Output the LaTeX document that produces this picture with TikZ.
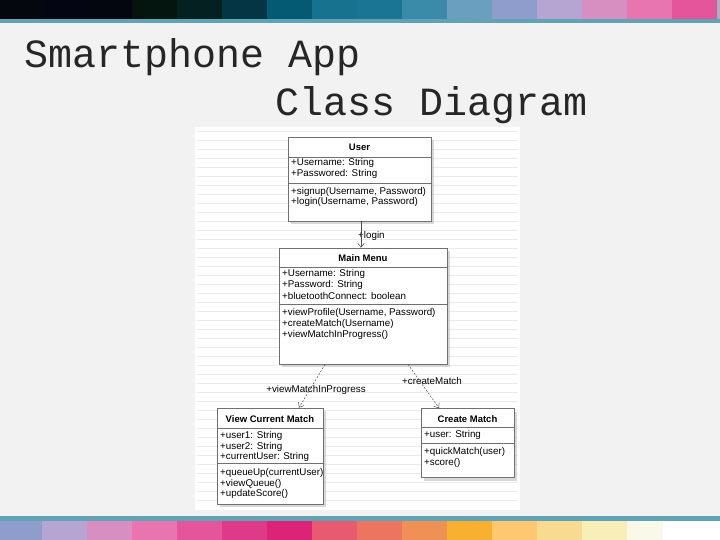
\documentclass[tikz,border=0pt]{standalone}
\usepackage{fontspec}
\setmainfont{Liberation Sans}
\newfontfamily\titlefont{Liberation Mono}
\usepackage{xcolor}
\usetikzlibrary{arrows.meta, positioning, shadows}
\tikzset{>={Straight Barb[length=4pt,width=6.5pt]}}

\definecolor{slidebg}{HTML}{F2F2F2}
\definecolor{stripline}{HTML}{5FA3B5}
\definecolor{stripgap}{HTML}{9CB4C4}
\definecolor{paperline}{HTML}{EAEAEA}
\definecolor{boxline}{HTML}{707070}

\begin{document}
\begin{tikzpicture}[x=1pt, y=-1pt, classbox/.style={draw=boxline, fill=white, line width=0.7pt, inner sep=0pt, drop shadow={shadow xshift=3pt, shadow yshift=-3pt, fill=black!25, opacity=0.6}}, classname/.style={font=\bfseries\fontsize{9.5}{11}\selectfont, inner sep=0pt}, member/.style={font=\fontsize{9.8}{11}\selectfont, anchor=west, inner sep=0pt}, sep/.style={draw=boxline, line width=0.7pt}, dep/.style={->, draw=black!70, line width=0.5pt}, deplabel/.style={font=\fontsize{9.8}{11}\selectfont, inner sep=0pt}, titletext/.style={font=\titlefont\fontsize{40}{48}\selectfont, text=black!85, inner sep=0pt}]

    \useasboundingbox (0,0) rectangle (720,540);
    \fill[slidebg] (0,0) rectangle (720,540);

    %Colour strips
    \fill[stripgap] (0,0) rectangle (720,19);
    \foreach \c [count=\i from 0] in {05070F,030612,03050F,04140F,042020,033545,055A73,177290,1A7595,3A8AAA,6A9FC0,8F9DCC,B6A4D2,D68FC0,E875B0,E5559B}{
        \definecolor{cur}{HTML}{\c}
        \fill[cur] (\i*45-3,0) rectangle (\i*45+41.8,19);
    }
    \fill[stripline] (0,19) rectangle (720,23);
    \fill[stripline] (0,516) rectangle (720,521);
    \fill[white] (0,521) rectangle (720,540);
    \foreach \c [count=\i from 0] in {8F9DCC,B6A4D2,D68FC0,E875B0,E5559B,DF3A8A,DD2378,E85A70,EC7560,EF9055,F7B030,FDC870,F8DB90,F8EEB8}{
        \definecolor{cur}{HTML}{\c}
        \fill[cur] (\i*45-3,521) rectangle (\i*45+41.8,540);
    }
    \definecolor{lastsq}{HTML}{F8F9E8}
    \fill[lastsq] (627,521) rectangle (663,540);

    %Title
    \node[titletext, anchor=base west] (title1) at (24,68) {Smartphone App};
    \node[titletext, anchor=base west] (title2) at (275,116) {Class Diagram};

    %Diagram sheet
    \fill[white] (195,127) rectangle (520,510);
    \foreach \y in {131,140,...,508}
        \draw[paperline, line width=0.5pt] (197,\y) -- (518,\y);

    %Classes
    \node[classbox, minimum width=143pt, minimum height=84pt] (user) at (359.5,179) {};
    \node[classname] (user-name) at (user.north |- 0,147) {User};
    \draw[sep] (user.west |- 0,157) -- (user.east |- 0,157);
    \node[member] (user-a1) at (291,163) {+Username: String};
    \node[member] (user-a2) at (291,174) {+Passwored: String};
    \draw[sep] (user.west |- 0,183) -- (user.east |- 0,183);
    \node[member] (user-m1) at (291,192) {+signup(Username, Password)};
    \node[member] (user-m2) at (291,202) {+login(Username, Password)};

    \node[classbox, minimum width=168pt, minimum height=116pt] (mainmenu) at (363,306) {};
    \node[classname] (mainmenu-name) at (mainmenu.north |- 0,258) {Main Menu};
    \draw[sep] (mainmenu.west |- 0,267) -- (mainmenu.east |- 0,267);
    \node[member] (mainmenu-a1) at (282,274) {+Username: String};
    \node[member] (mainmenu-a2) at (282,285) {+Password: String};
    \node[member] (mainmenu-a3) at (282,296) {+bluetoothConnect: boolean};
    \draw[sep] (mainmenu.west |- 0,304) -- (mainmenu.east |- 0,304);
    \node[member] (mainmenu-m1) at (282,313) {+viewProfile(Username, Password)};
    \node[member] (mainmenu-m2) at (282,324) {+createMatch(Username)};
    \node[member] (mainmenu-m3) at (282,335) {+viewMatchInProgress()};

    \node[classbox, minimum width=106pt, minimum height=96pt] (viewmatch) at (270,456) {};
    \node[classname] (viewmatch-name) at (viewmatch.north |- 0,419) {View Current Match};
    \draw[sep] (viewmatch.west |- 0,428) -- (viewmatch.east |- 0,428);
    \node[member] (viewmatch-a1) at (220,436) {+user1: String};
    \node[member] (viewmatch-a2) at (220,447) {+user2: String};
    \node[member] (viewmatch-a3) at (220,457) {+currentUser: String};
    \draw[sep] (viewmatch.west |- 0,463) -- (viewmatch.east |- 0,463);
    \node[member] (viewmatch-m1) at (220,473) {+queueUp(currentUser)};
    \node[member] (viewmatch-m2) at (220,484) {+viewQueue()};
    \node[member] (viewmatch-m3) at (220,494) {+updateScore()};

    \node[classbox, minimum width=93pt, minimum height=69pt] (creatematch) at (467.5,443) {};
    \node[classname] (creatematch-name) at (creatematch.north |- 0,419) {Create Match};
    \draw[sep] (creatematch.west |- 0,427) -- (creatematch.east |- 0,427);
    \node[member] (creatematch-a1) at (424,435) {+user: String};
    \draw[sep] (creatematch.west |- 0,443) -- (creatematch.east |- 0,443);
    \node[member] (creatematch-m1) at (424,452) {+quickMatch(user)};
    \node[member] (creatematch-m2) at (424,463) {+score()};

    %Labels
    \node[deplabel, anchor=west] (login-lbl) at (358,236) {+login};
    \node[deplabel] (viewmatch-lbl) at (316,390) {+viewMatchInProgress};
    \node[deplabel] (creatematch-lbl) at (432,381) {+createMatch};

    %Lines
    \draw[dep] ([xshift=1.5pt]user.south) -- ([xshift=1.5pt]user.south |- mainmenu.north);
    \draw[dep, dash pattern=on 2pt off 1.5pt] ([xshift=-38pt]mainmenu.south) -- ([xshift=29pt]viewmatch.north);
    \draw[dep, dash pattern=on 2pt off 1.5pt] ([xshift=45pt]mainmenu.south) -- ([xshift=-28.5pt]creatematch.north);

\end{tikzpicture}
\end{document}
